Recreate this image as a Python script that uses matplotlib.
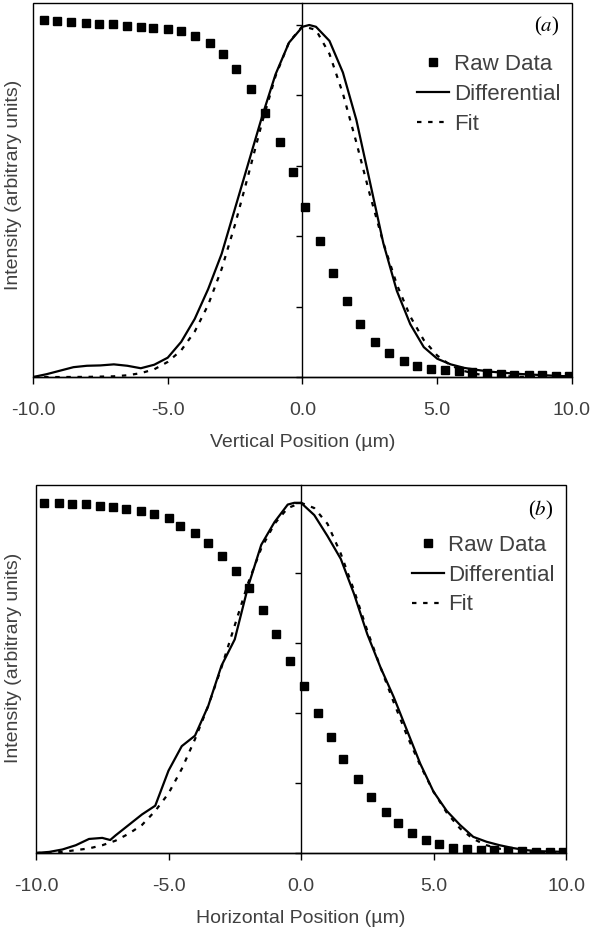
import matplotlib
matplotlib.use("Agg")
from matplotlib import pyplot as plt
from matplotlib.patches import Rectangle

plt.rcParams['font.family'] = ['Liberation Sans', 'DejaVu Sans']
plt.rcParams['axes.unicode_minus'] = False
plt.rcParams['mathtext.fontset'] = 'stix'

# panel (a) - vertical scan
raw_x_a = [-9.6, -9.1, -8.6, -8.05, -7.55, -7.05, -6.5, -6.0, -5.55, -5.0, -4.5, -4.0,
           -3.45, -2.95, -2.45, -1.9, -1.4, -0.85, -0.35, 0.1, 0.65, 1.15, 1.65, 2.15,
           2.7, 3.2, 3.75, 4.25, 4.75, 5.3, 5.8, 6.3, 6.85, 7.35, 7.85, 8.4, 8.9, 9.4, 9.9]
raw_y_a = [1.014, 1.011, 1.009, 1.006, 1.003, 1.003, 0.997, 0.994, 0.991, 0.989, 0.983, 0.969,
           0.949, 0.918, 0.875, 0.818, 0.750, 0.668, 0.582, 0.483, 0.386, 0.295, 0.216, 0.151,
           0.099, 0.068, 0.045, 0.030, 0.024, 0.019, 0.016, 0.013, 0.011, 0.009, 0.007, 0.006,
           0.005, 0.004, 0.003]

diff_x_a = [-10, -9.5, -9, -8.5, -8, -7.5, -7, -6.5, -6, -5.5, -5, -4.5, -4, -3.5, -3, -2.5,
            -2, -1.5, -1, -0.5, 0, 0.25, 0.5, 1, 1.5, 2, 2.5, 3, 3.5, 4, 4.5, 5, 5.5, 6,
            6.5, 7, 7.5, 8, 8.5, 9, 9.5, 10]
diff_y_a = [0.0, 0.008, 0.018, 0.028, 0.032, 0.033, 0.036, 0.032, 0.025, 0.035, 0.055, 0.10,
            0.165, 0.25, 0.35, 0.48, 0.61, 0.74, 0.86, 0.95, 0.995, 1.0, 0.995, 0.955, 0.865,
            0.73, 0.555, 0.38, 0.245, 0.15, 0.085, 0.052, 0.036, 0.026, 0.02, 0.015, 0.012,
            0.009, 0.007, 0.005, 0.003, 0.002]

fit_x_a = [-10, -9, -8, -7, -6.5, -6, -5.5, -5, -4.5, -4, -3.5, -3, -2.5, -2, -1.5, -1, -0.5,
           0, 0.5, 1, 1.5, 2, 2.5, 3, 3.5, 4, 4.5, 5, 5.5, 6, 6.5, 7, 8, 9, 10]
fit_y_a = [0.0, 0.0, 0.0004, 0.002, 0.005, 0.011, 0.022, 0.043, 0.076, 0.129, 0.205, 0.307,
           0.434, 0.577, 0.723, 0.855, 0.951, 0.997, 0.986, 0.918, 0.805, 0.666, 0.518, 0.381,
           0.263, 0.172, 0.105, 0.061, 0.033, 0.017, 0.008, 0.004, 0.001, 0.0, 0.0]

# panel (b) - horizontal scan
raw_x_b = [-9.7, -9.15, -8.65, -8.1, -7.6, -7.1, -6.6, -6.05, -5.55, -5.0, -4.55, -4.0,
           -3.5, -3.0, -2.45, -1.95, -1.45, -0.95, -0.4, 0.1, 0.65, 1.15, 1.6, 2.15, 2.65,
           3.2, 3.65, 4.2, 4.7, 5.2, 5.75, 6.25, 6.8, 7.3, 7.8, 8.35, 8.85, 9.4, 9.9]
raw_y_b = [1.0, 1.0, 0.997, 0.997, 0.991, 0.989, 0.983, 0.977, 0.969, 0.957, 0.934, 0.914,
           0.886, 0.849, 0.806, 0.757, 0.694, 0.626, 0.549, 0.477, 0.40, 0.331, 0.269, 0.211,
           0.16, 0.117, 0.086, 0.057, 0.037, 0.026, 0.014, 0.011, 0.009, 0.008, 0.006, 0.005,
           0.004, 0.003, 0.002]

diff_x_b = [-10, -9.5, -9, -8.5, -8, -7.5, -7.2, -7, -6.5, -6, -5.5, -5, -4.5, -4, -3.5, -3,
            -2.5, -2, -1.5, -1, -0.5, -0.25, 0, 0.5, 1, 1.5, 2, 2.5, 3, 3.5, 4, 4.5, 5, 5.5,
            6, 6.5, 7, 7.5, 8, 8.5, 9, 9.5, 10]
diff_y_b = [0.0, 0.003, 0.01, 0.022, 0.04, 0.043, 0.037, 0.05, 0.08, 0.11, 0.135, 0.235,
            0.305, 0.335, 0.42, 0.535, 0.61, 0.76, 0.88, 0.945, 0.995, 1.0, 1.0, 0.965, 0.905,
            0.84, 0.74, 0.625, 0.53, 0.445, 0.35, 0.255, 0.175, 0.12, 0.08, 0.046, 0.032,
            0.022, 0.014, 0.008, 0.005, 0.004, 0.003]

fit_x_b = [-10, -9, -8.5, -8, -7.5, -7, -6.5, -6, -5.5, -5, -4.5, -4, -3.5, -3, -2.5, -2,
           -1.5, -1, -0.5, 0, 0.5, 1, 1.5, 2, 2.5, 3, 3.5, 4, 4.5, 5, 5.5, 6, 6.5, 7, 7.5,
           8, 8.5, 9, 10]
fit_y_b = [0.0, 0.003, 0.008, 0.013, 0.022, 0.035, 0.055, 0.08, 0.12, 0.17, 0.24, 0.325,
           0.42, 0.53, 0.65, 0.77, 0.87, 0.94, 0.985, 1.0, 0.985, 0.94, 0.855, 0.75, 0.635,
           0.53, 0.43, 0.335, 0.25, 0.175, 0.115, 0.07, 0.04, 0.022, 0.012, 0.006, 0.003,
           0.001, 0.0]

x_ticks = [-10, -5, 0, 5, 10]
y_ticks = [0, 0.2, 0.4, 0.6, 0.8, 1.0]
TXT = '#404040'
FS = 14


def draw_panel(ax, raw, diff, fit, ymax, xlabel, tag, leg_anchor, tag_pos, ylab_pos):
    ax.plot(raw[0], raw[1], 's', color='black', ms=6.3, label='Raw Data', zorder=3)
    ax.plot(diff[0], diff[1], '-', color='black', lw=1.6, label='Differential')
    ax.plot(fit[0], fit[1], color='black', lw=1.6, ls=(0, (2, 3)), label='Fit')

    ax.set_xlim(-10, 10)
    ax.set_ylim(0, ymax)
    ax.set_xticks(x_ticks)
    ax.set_xticklabels(['%.1f' % v for v in x_ticks])
    ax.set_yticks(y_ticks)
    ax.set_yticklabels([])

    ax.spines['left'].set_position(('data', 0))
    ax.spines['top'].set_visible(False)
    ax.spines['right'].set_visible(False)
    for s in ('left', 'bottom'):
        ax.spines[s].set_linewidth(1.0)
    ax.add_patch(Rectangle((0, 0), 1, 1, transform=ax.transAxes, fill=False,
                           lw=1.0, ec='black', clip_on=False, zorder=5))

    ax.tick_params(axis='x', direction='out', length=5, width=1, labelsize=FS,
                   labelcolor=TXT, pad=13)
    ax.tick_params(axis='y', direction='out', length=4, width=1)

    ax.set_xlabel(xlabel, fontsize=FS, color=TXT, labelpad=11)
    ax.set_ylabel('Intensity (arbitrary units)', fontsize=FS, color=TXT)
    ax.yaxis.set_label_coords(*ylab_pos)

    ax.legend(loc='upper right', bbox_to_anchor=leg_anchor, frameon=False,
              fontsize=16, labelcolor=TXT, handlelength=1.45, handletextpad=0.2,
              borderaxespad=0, borderpad=0, labelspacing=0.4)
    ax.text(tag_pos[0], tag_pos[1], r'($\mathit{%s}$)' % tag, transform=ax.transAxes,
            ha='center', va='center', fontsize=15, family='Liberation Serif')


fig = plt.figure(figsize=(5.98, 9.40), dpi=100)
ax_a = fig.add_axes([0.0552, 0.5989, 0.9013, 0.3979])
ax_b = fig.add_axes([0.0602, 0.0926, 0.8863, 0.3915])

draw_panel(ax_a, (raw_x_a, raw_y_a), (diff_x_a, diff_y_a), (fit_x_a, fit_y_a), 1.0625,
           'Vertical Position (\u00b5m)', 'a', (0.978, 0.864), (0.953, 0.937), (-0.02, 0.513))
draw_panel(ax_b, (raw_x_b, raw_y_b), (diff_x_b, diff_y_b), (fit_x_b, fit_y_b), 1.051,
           'Horizontal Position (\u00b5m)', 'b', (0.979, 0.865), (0.953, 0.93), (-0.026, 0.53))

fig.savefig('out.png', dpi=100)
